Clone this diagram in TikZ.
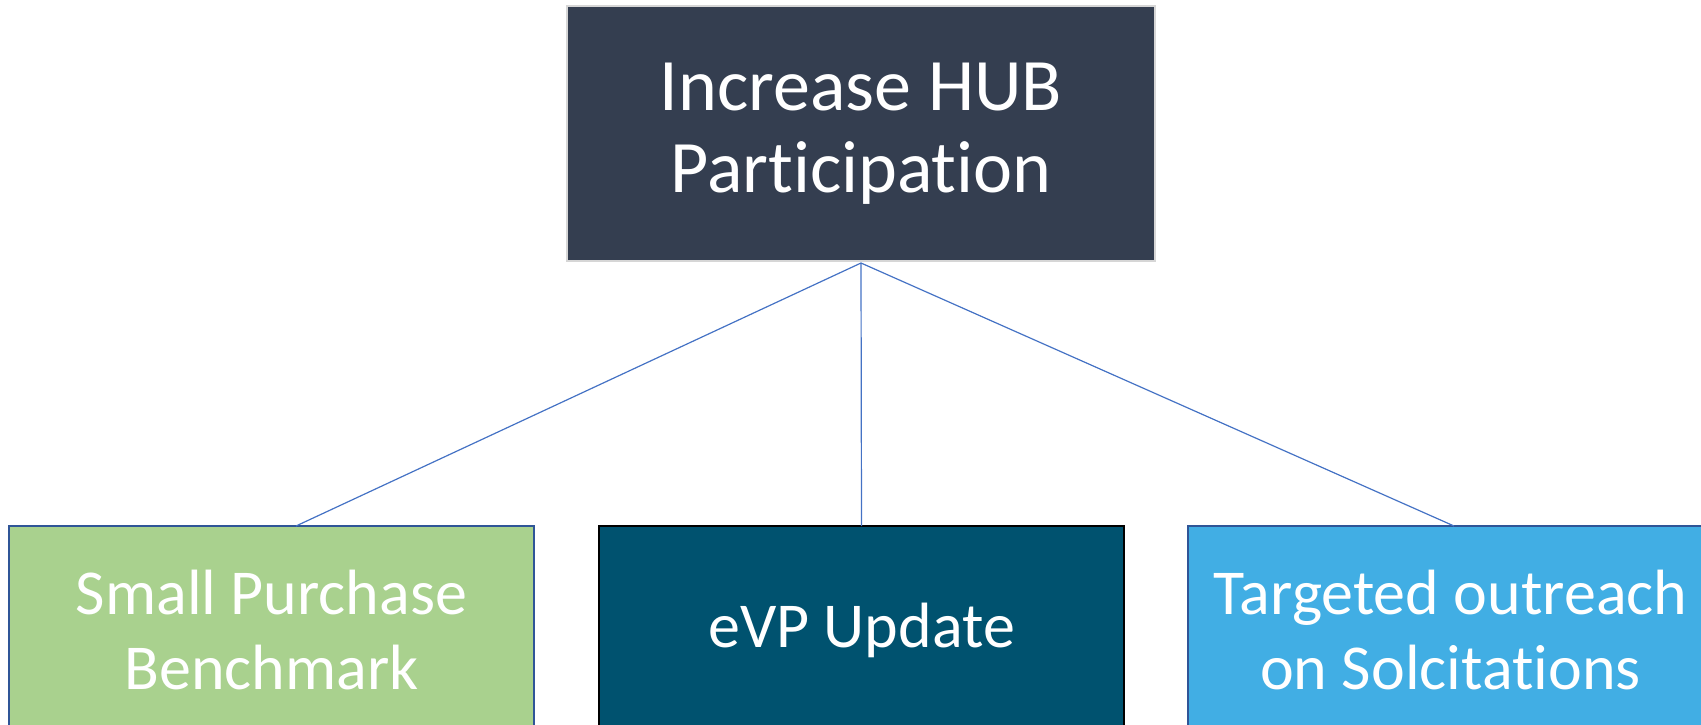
\documentclass[tikz,border=0pt]{standalone}
\usepackage{fontspec}
\setmainfont{Carlito}[RawFeature={-liga;-clig;-dlig;-calt;-rlig;-hlig}]
\definecolor{topfill}{HTML}{343E50}
\definecolor{topline}{HTML}{D6D6D6}
\definecolor{greenfill}{HTML}{A9D18E}
\definecolor{tealfill}{HTML}{00526F}
\definecolor{bluefill}{HTML}{41AEE4}
\definecolor{boxline}{HTML}{2F5597}
\definecolor{connector}{HTML}{4472C4}
\tikzset{
  box/.style={rectangle, inner sep=0pt, outer sep=0pt, align=center, text=white, line width=2pt},
  topbox/.style={box, fill=topfill, draw=topline, minimum width=588pt, minimum height=255pt,
    font=\fontsize{74}{82}\selectfont},
  lowbox/.style={box, minimum width=525pt, minimum height=208pt,
    font=\fontsize{64}{75}\selectfont},
  link/.style={draw=connector, line width=1.2pt}
}
\begin{document}
\begin{tikzpicture}[x=1pt,y=-1pt]
\useasboundingbox (0,0) rectangle (1701,725);
\clip (0,0) rectangle (1701,725);
\node[topbox] (top) at (861,133.5) {Increase HUB\\Participation};
\node[lowbox, fill=greenfill, draw=boxline] (left) at (271.5,630) {Small Purchase\\Benchmark};
\node[lowbox, fill=tealfill, draw=black] (mid) at (861.5,630) {eVP Update};
\node[lowbox, fill=bluefill, draw=boxline] (right) at (1450.5,630) {Targeted outreach\\on Solcitations};
\coordinate (hub) at ([yshift=-2pt]top.south);
\draw[link] (hub) -- ([xshift=24.5pt]left.north);
\draw[link] (hub) -- (mid.north);
\draw[link] (hub) -- ([xshift=3.5pt]right.north);
\end{tikzpicture}
\end{document}
